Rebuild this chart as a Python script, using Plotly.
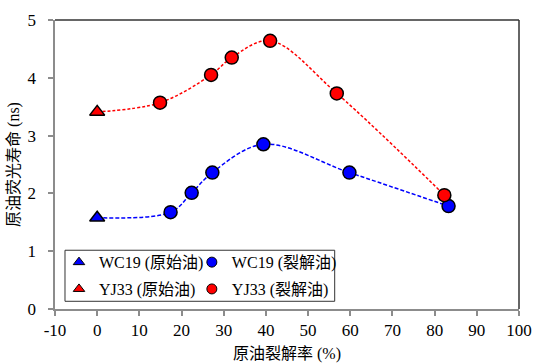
import plotly.graph_objects as go

# Data
wc19_orig_x = [0]
wc19_orig_y = [1.58]
wc19_crack_x = [17.4, 22.4, 27.3, 39.4, 59.8, 83.3]
wc19_crack_y = [1.675, 2.01, 2.36, 2.85, 2.36, 1.78]
yj33_orig_x = [0]
yj33_orig_y = [3.41]
yj33_crack_x = [14.9, 27.0, 31.9, 41.0, 56.8, 82.3]
yj33_crack_y = [3.57, 4.05, 4.35, 4.64, 3.73, 1.97]

x_ticks = [-10, 0, 10, 20, 30, 40, 50, 60, 70, 80, 90, 100]
y_ticks = [0, 1, 2, 3, 4, 5]

BLUE = "#0000FF"
RED = "#FF0000"
FONT = "Liberation Serif, Times New Roman, Noto Sans CJK SC, serif"

fig = go.Figure()

# dashed smooth lines
fig.add_trace(go.Scatter(x=wc19_orig_x + wc19_crack_x, y=wc19_orig_y + wc19_crack_y,
                         mode="lines", line=dict(color=BLUE, width=1.5, dash="4px,2px", shape="spline", smoothing=1),
                         showlegend=False, hoverinfo="skip"))
fig.add_trace(go.Scatter(x=yj33_orig_x + yj33_crack_x, y=yj33_orig_y + yj33_crack_y,
                         mode="lines", line=dict(color=RED, width=1.5, dash="3px,2px", shape="spline", smoothing=1),
                         showlegend=False, hoverinfo="skip"))

mk_line = dict(color="black", width=1.5)
fig.add_trace(go.Scatter(x=wc19_orig_x, y=wc19_orig_y, mode="markers",
                         marker=dict(symbol="triangle-up", size=13, color=BLUE, line=mk_line), showlegend=False))
fig.add_trace(go.Scatter(x=wc19_crack_x, y=wc19_crack_y, mode="markers",
                         marker=dict(symbol="circle", size=13, color=BLUE, line=mk_line), showlegend=False))
fig.add_trace(go.Scatter(x=yj33_orig_x, y=yj33_orig_y, mode="markers",
                         marker=dict(symbol="triangle-up", size=13, color=RED, line=mk_line), showlegend=False))
fig.add_trace(go.Scatter(x=yj33_crack_x, y=yj33_crack_y, mode="markers",
                         marker=dict(symbol="circle", size=13, color=RED, line=mk_line), showlegend=False))

# legend entries
lg_line = dict(color="black", width=1)
fig.add_trace(go.Scatter(x=[None], y=[None], mode="markers", name="WC19 (原始油)", legend="legend",
                         legendgroup="a", marker=dict(symbol="triangle-up", size=10, color=BLUE, line=lg_line)))
fig.add_trace(go.Scatter(x=[None], y=[None], mode="markers", name="YJ33 (原始油)", legend="legend",
                         legendgroup="b", marker=dict(symbol="triangle-up", size=10, color=RED, line=lg_line)))
fig.add_trace(go.Scatter(x=[None], y=[None], mode="markers", name="WC19 (裂解油)", legend="legend2",
                         legendgroup="c", marker=dict(symbol="circle", size=10, color=BLUE, line=lg_line)))
fig.add_trace(go.Scatter(x=[None], y=[None], mode="markers", name="YJ33 (裂解油)", legend="legend2",
                         legendgroup="d", marker=dict(symbol="circle", size=10, color=RED, line=lg_line)))

L, R, T, B = 55, 30.5, 20, 55.3
W, H = 550, 364
pw = W - L - R
ph = H - T - B

def px_x(p):
    return (p - L) / pw

def px_y(p):
    return (H - B - p) / ph

legend_common = dict(bgcolor="rgba(0,0,0,0)", borderwidth=0, font=dict(family=FONT, size=16, color="#000"),
                     xanchor="left", yanchor="top", tracegroupgap=3, orientation="v")

fig.update_layout(
    template="none",
    width=W, height=H,
    margin=dict(l=L, r=R, t=T, b=B, autoexpand=False),
    paper_bgcolor="white", plot_bgcolor="white",
    font=dict(family=FONT, size=16, color="#000"),
    legend=dict(x=px_x(59), y=px_y(245), **legend_common),
    legend2=dict(x=px_x(192), y=px_y(245), **legend_common),
    xaxis=dict(range=[-10, 100], tickvals=x_ticks, ticktext=[str(v) for v in x_ticks], automargin=False,
               showgrid=False, zeroline=False, showline=True, linecolor="#8c8c8c", linewidth=2,
               ticks="outside", ticklen=5, tickwidth=1.5, tickcolor="#8c8c8c",
               tickfont=dict(family=FONT, size=17, color="#000"),
               title=dict(text="原油裂解率 (%)", font=dict(family=FONT, size=16, color="#000"), standoff=8)),
    yaxis=dict(range=[0, 5], tickvals=y_ticks, ticktext=[str(v) + "\u00a0\u00a0" for v in y_ticks], automargin=False,
               showgrid=False, zeroline=False, showline=True, linecolor="#8c8c8c", linewidth=2,
               ticks="outside", ticklen=5, tickwidth=1.5, tickcolor="#8c8c8c",
               tickfont=dict(family=FONT, size=17, color="#000"),
               title=dict(text="原油荧光寿命 (ns)", font=dict(family=FONT, size=16, color="#000"), standoff=4)),
    shapes=[
        # top and right frame
        dict(type="line", xref="paper", yref="paper", x0=0, x1=1, y0=1, y1=1, line=dict(color="#333", width=1.5)),
        dict(type="line", xref="paper", yref="paper", x0=1, x1=1, y0=0, y1=1, line=dict(color="#333", width=1.5)),
        # legend box
        dict(type="rect", xref="paper", yref="paper", x0=px_x(65), x1=px_x(335), y0=px_y(301), y1=px_y(250),
             line=dict(color="#333", width=1), fillcolor="rgba(255,255,255,0)", layer="above"),
    ],
)

fig.write_html("out.html", config={"displayModeBar": False},
               post_script="document.body.style.margin='0';document.body.style.overflow='hidden';")
